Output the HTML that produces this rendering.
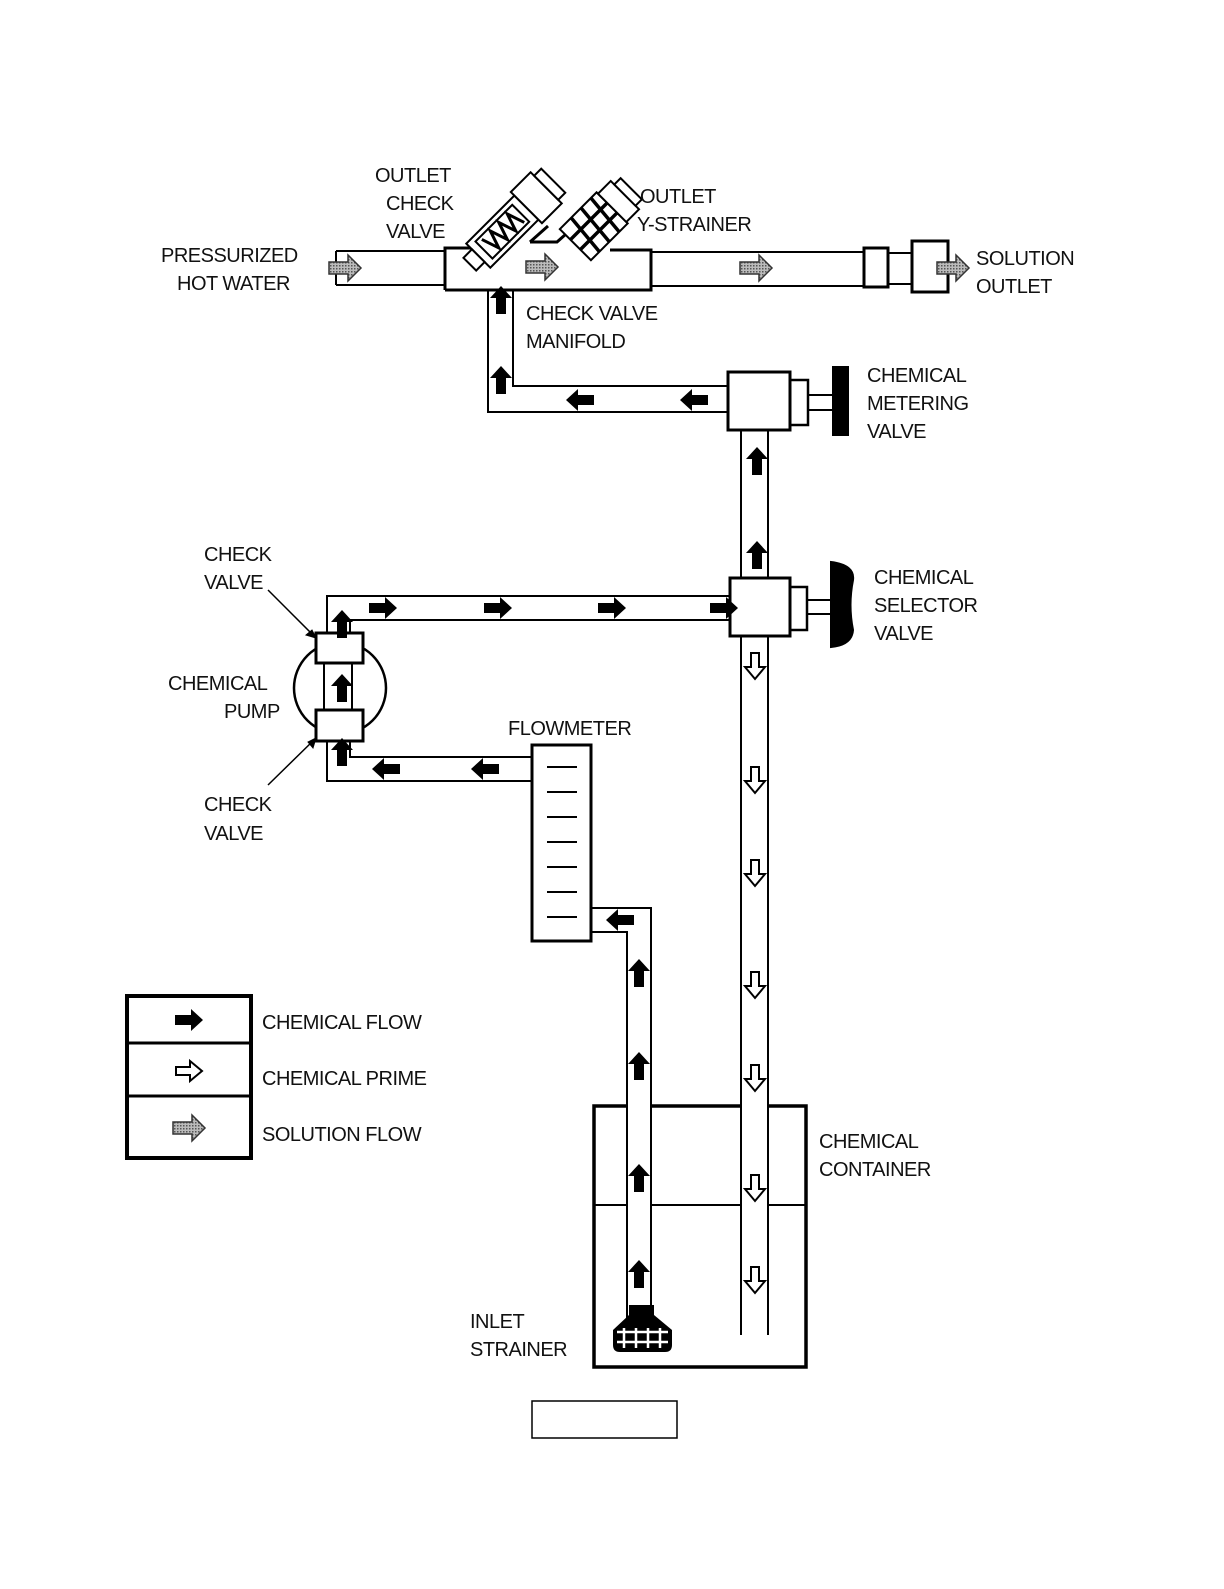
<!DOCTYPE html>
<html><head><meta charset="utf-8"><style>
body{margin:0;background:#fff}
svg text{font-family:"Liberation Sans",sans-serif;font-size:20px;fill:#111;letter-spacing:-0.5px}
</style></head><body>
<svg width="1224" height="1584" viewBox="0 0 1224 1584" xmlns="http://www.w3.org/2000/svg">
<defs>
<pattern id="dots" width="3" height="3" patternUnits="userSpaceOnUse"><rect width="3" height="3" fill="#bbb"/><rect width="1.5" height="1.5" fill="#555"/></pattern>
<g id="ab"><path d="M-14,-5 H2 V-11 L14,0 L2,11 V5 H-14 Z" fill="#000"/></g>
<g id="aw"><path d="M-13,-4 H1 V-10 L13,0 L1,10 V4 H-13 Z" fill="#fff" stroke="#000" stroke-width="2"/></g>
<g id="ag"><path d="M-16,-6 H3 V-13 L16,0 L3,13 V6 H-16 Z" fill="url(#dots)" stroke="#333" stroke-width="1.5"/></g>
</defs>
<g fill="none" stroke="#000" stroke-width="2">
<line x1="336" y1="251" x2="445" y2="251"/><line x1="336" y1="285" x2="445" y2="285"/>
<line x1="336" y1="251" x2="336" y2="285"/>
<line x1="651" y1="252" x2="864" y2="252"/><line x1="651" y1="286" x2="864" y2="286"/>
<rect x="864" y="248" width="24" height="39" stroke-width="3"/>
<rect x="888" y="253" width="24" height="31"/>
<rect x="912" y="241" width="36" height="51" stroke-width="3"/>
<!-- manifold -->
<path d="M445,290 V248 H470 L500,222 L545,232 L530,242 H557 L575,226 L615,245 L610,250 H651 V290 Z" fill="#fff" stroke="none"/>
<path d="M445,290 V248 H470 L500,222 M530,242 L548,226 M530,242 H557 L575,226 M610,250 H651 V290 H445" stroke-width="3"/>
<g transform="translate(508,226) rotate(-45)" fill="#fff">
<rect x="-42" y="-17" width="68" height="34" stroke-width="2"/>
<rect x="-34" y="-12" width="52" height="24" stroke-width="2"/>
<path d="M-28,-9 L-22,9 L-16,-9 L-10,9 L-4,-9 L2,9 L8,-9 L14,9" stroke-width="3"/>
<rect x="-54" y="-9" width="12" height="18"/>
<rect x="26" y="-22" width="28" height="44"/>
<rect x="54" y="-17" width="10" height="34"/>
</g>
<g transform="translate(598,222) rotate(-45)" fill="#fff">
<rect x="-32" y="-22" width="52" height="44" stroke-width="2"/>
<g stroke-width="3.5"><line x1="-32" y1="-7" x2="20" y2="-7"/><line x1="-32" y1="7" x2="20" y2="7"/>
<line x1="-16" y1="-22" x2="-20" y2="22"/><line x1="-2" y1="-22" x2="-6" y2="22"/><line x1="12" y1="-22" x2="8" y2="22"/></g>
<rect x="20" y="-20" width="18" height="40"/>
<rect x="38" y="-15" width="9" height="30"/>
</g>
<path d="M488,290 V412 H728"/>
<path d="M513,290 V386 H728"/>
<rect x="728" y="372" width="62" height="58" stroke-width="3" fill="#fff"/>
<rect x="790" y="380" width="18" height="45" stroke-width="2.5"/>
<line x1="808" y1="395" x2="833" y2="395"/><line x1="808" y1="410" x2="833" y2="410"/>
<rect x="833" y="367" width="15" height="68" fill="#000"/>
<line x1="741" y1="430" x2="741" y2="578"/><line x1="768" y1="430" x2="768" y2="578"/>
<line x1="741" y1="636" x2="741" y2="1335"/><line x1="768" y1="636" x2="768" y2="1335"/>
<rect x="730" y="578" width="60" height="58" stroke-width="3" fill="#fff"/>
<rect x="790" y="587" width="17" height="43" stroke-width="2.5"/>
<line x1="807" y1="600" x2="831" y2="600"/><line x1="807" y1="614" x2="831" y2="614"/>
<path d="M831,562 Q855,565 853,580 Q848,605 853,630 Q852,645 831,647 Z" fill="#000"/>
<path d="M730,596 H327 V781 H532"/>
<path d="M730,620 H350 V633"/>
<path d="M350,741 V757 H532"/>
<circle cx="340" cy="688" r="46" stroke-width="2.5"/>
<rect x="324" y="663" width="28" height="47" fill="#fff"/>
<rect x="316" y="633" width="47" height="30" stroke-width="3" fill="#fff"/>
<rect x="316" y="710" width="47" height="31" stroke-width="3" fill="#fff"/>
<line x1="268" y1="590" x2="316" y2="638" stroke-width="1.5"/>
<line x1="268" y1="785" x2="316" y2="738" stroke-width="1.5"/>
<path d="M316,638 l-10,-3 l6,-5 z M316,738 l-3,10 l-5,-6 z" fill="#000" stroke-width="1"/>
<rect x="532" y="745" width="59" height="196" stroke-width="3" fill="#fff"/>
<g stroke-width="2"><line x1="547" y1="767" x2="577" y2="767"/><line x1="547" y1="792" x2="577" y2="792"/><line x1="547" y1="817" x2="577" y2="817"/><line x1="547" y1="842" x2="577" y2="842"/><line x1="547" y1="867" x2="577" y2="867"/><line x1="547" y1="892" x2="577" y2="892"/><line x1="547" y1="917" x2="577" y2="917"/></g>
<path d="M591,908 H651 V1318"/>
<path d="M591,932 H627 V1318"/>
<rect x="594" y="1106" width="212" height="261" stroke-width="3.5" fill="none"/>
<line x1="594" y1="1205" x2="806" y2="1205" stroke-width="2"/>
<rect x="127" y="996" width="124" height="162" stroke-width="4"/>
<line x1="127" y1="1043" x2="251" y2="1043" stroke-width="3"/>
<line x1="127" y1="1096" x2="251" y2="1096" stroke-width="3"/>
<rect x="532" y="1401" width="145" height="37" stroke-width="1.5"/>
</g>
<rect x="628" y="1104" width="22" height="220" fill="#fff"/>
<rect x="742" y="1104" width="25" height="232" fill="#fff"/>
<path d="M629,1305 H654 V1315 L672,1330 V1345 Q672,1352 665,1352 H620 Q613,1352 613,1345 V1330 L629,1315 Z" fill="#000"/>
<g stroke="#fff" stroke-width="2.5"><line x1="617" y1="1332" x2="668" y2="1332"/><line x1="617" y1="1342" x2="668" y2="1342"/><line x1="624" y1="1328" x2="624" y2="1348"/><line x1="636" y1="1328" x2="636" y2="1348"/><line x1="648" y1="1328" x2="648" y2="1348"/><line x1="660" y1="1328" x2="660" y2="1348"/></g>
<use href="#ag" x="345" y="268"/><use href="#ag" x="542" y="267"/><use href="#ag" x="756" y="268"/><use href="#ag" x="953" y="268"/>
<use href="#ab" transform="translate(501,300) rotate(-90)"/>
<use href="#ab" transform="translate(501,380) rotate(-90)"/>
<use href="#ab" transform="translate(580,400) rotate(180)"/>
<use href="#ab" transform="translate(694,400) rotate(180)"/>
<use href="#ab" transform="translate(757,461) rotate(-90)"/>
<use href="#ab" transform="translate(757,555) rotate(-90)"/>
<use href="#ab" x="383" y="608"/><use href="#ab" x="498" y="608"/><use href="#ab" x="612" y="608"/><use href="#ab" x="724" y="608"/>
<use href="#ab" transform="translate(342,624) rotate(-90)"/>
<use href="#ab" transform="translate(342,688) rotate(-90)"/>
<use href="#ab" transform="translate(342,752) rotate(-90)"/>
<use href="#ab" transform="translate(386,769) rotate(180)"/>
<use href="#ab" transform="translate(485,769) rotate(180)"/>
<use href="#ab" transform="translate(620,920) rotate(180)"/>
<use href="#ab" transform="translate(639,973) rotate(-90)"/>
<use href="#ab" transform="translate(639,1066) rotate(-90)"/>
<use href="#ab" transform="translate(639,1178) rotate(-90)"/>
<use href="#ab" transform="translate(639,1274) rotate(-90)"/>
<use href="#aw" transform="translate(755,666) rotate(90)"/>
<use href="#aw" transform="translate(755,780) rotate(90)"/>
<use href="#aw" transform="translate(755,873) rotate(90)"/>
<use href="#aw" transform="translate(755,985) rotate(90)"/>
<use href="#aw" transform="translate(755,1078) rotate(90)"/>
<use href="#aw" transform="translate(755,1188) rotate(90)"/>
<use href="#aw" transform="translate(755,1280) rotate(90)"/>
<use href="#ab" x="189" y="1020"/>
<use href="#aw" x="189" y="1071"/>
<use href="#ag" x="189" y="1128"/>
<text x="375" y="182">OUTLET</text><text x="386" y="210">CHECK</text><text x="386" y="238">VALVE</text>
<text x="640" y="203">OUTLET</text><text x="637" y="231">Y-STRAINER</text>
<text x="161" y="262">PRESSURIZED</text><text x="177" y="290">HOT WATER</text>
<text x="976" y="265">SOLUTION</text><text x="976" y="293">OUTLET</text>
<text x="526" y="320">CHECK VALVE</text><text x="526" y="348">MANIFOLD</text>
<text x="867" y="382">CHEMICAL</text><text x="867" y="410">METERING</text><text x="867" y="438">VALVE</text>
<text x="204" y="561">CHECK</text><text x="204" y="589">VALVE</text>
<text x="874" y="584">CHEMICAL</text><text x="874" y="612">SELECTOR</text><text x="874" y="640">VALVE</text>
<text x="168" y="690">CHEMICAL</text><text x="224" y="718">PUMP</text>
<text x="508" y="735">FLOWMETER</text>
<text x="204" y="811">CHECK</text><text x="204" y="840">VALVE</text>
<text x="262" y="1029">CHEMICAL FLOW</text>
<text x="262" y="1085">CHEMICAL PRIME</text>
<text x="262" y="1141">SOLUTION FLOW</text>
<text x="819" y="1148">CHEMICAL</text><text x="819" y="1176">CONTAINER</text>
<text x="470" y="1328">INLET</text><text x="470" y="1356">STRAINER</text>
</svg>
</body></html>
